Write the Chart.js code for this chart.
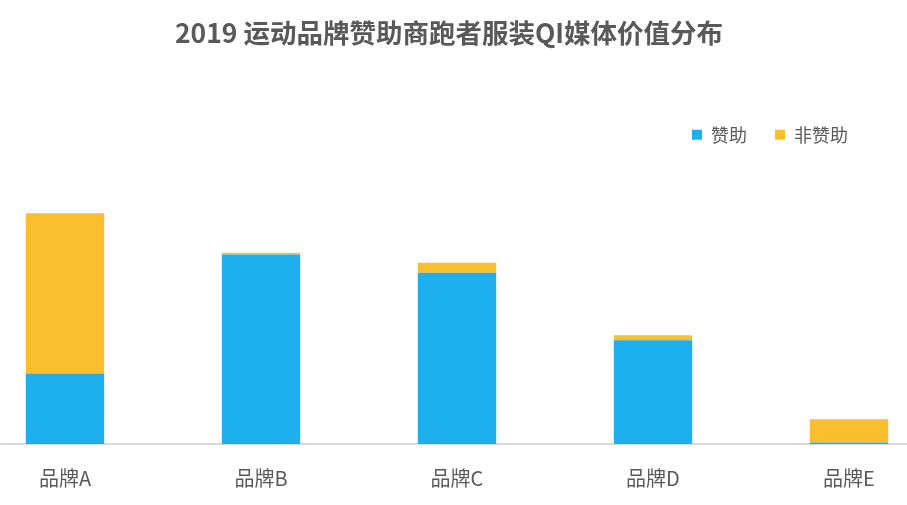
<!DOCTYPE html>
<html>
<head>
<meta charset="utf-8">
<title>2019 运动品牌赞助商跑者服装QI媒体价值分布</title>
<script src="https://cdn.jsdelivr.net/npm/chart.js@4/dist/chart.umd.min.js"></script>
<style>
    html, body { margin: 0; padding: 0; background: #fff; }
    #wrap { width: 907px; height: 505px; }
</style>
</head>
<body>
<div id="wrap"><canvas id="mediaValueChart"></canvas></div>
<script>
// Data (relative media value, no axis shown)
const brands = ['品牌A', '品牌B', '品牌C', '品牌D', '品牌E'];
const sponsored = [70, 188, 170, 103, 1.5];
const nonSponsored = [159, 1.7, 10, 5, 23];
const yMax = 288;

const textColor = '#595959';
const fontFamily = '"Noto Sans CJK SC", "Noto Sans", sans-serif';

// The original plot is a little wider than the canvas: stretch the category axis
const widenX = {
    id: 'widenX',
    afterLayout(chart) {
        const x = chart.scales.x;
        x.left = -33;
        x.right = 947;
        x.width = x.right - x.left;
        x.configure();
    }
};

const mediaValueChart = new Chart(document.getElementById('mediaValueChart'), {
    type: 'bar',
    data: {
        labels: brands,
        datasets: [{
            label: '赞助',
            data: sponsored,
            backgroundColor: '#1EB0EE',
            clip: false
        }, {
            label: '非赞助',
            data: nonSponsored,
            backgroundColor: '#FBBF2D',
            clip: false
        }]
    },
    options: {
        responsive: true,
        maintainAspectRatio: false,
        animation: false,
        layout: {
            padding: { left: 22, right: 31, top: 0, bottom: -7 }
        },
        datasets: {
            bar: {
                categoryPercentage: 1,
                barPercentage: 0.4
            }
        },
        scales: {
            x: {
                stacked: true,
                grid: { display: false, drawTicks: false },
                border: { display: true, color: '#d9d9d9', width: 2 },
                ticks: {
                    color: textColor,
                    padding: 22,
                    font: { family: fontFamily, size: 20 }
                }
            },
            y: {
                stacked: true,
                display: false,
                min: 0,
                max: yMax
            }
        },
        plugins: {
            title: {
                display: true,
                text: '2019 运动品牌赞助商跑者服装QI媒体价值分布',
                color: textColor,
                font: { family: fontFamily, size: 26.5, weight: 'bold' },
                padding: { top: 17, bottom: 49 }
            },
            legend: {
                position: 'top',
                align: 'end',
                labels: {
                    color: textColor,
                    boxWidth: 10,
                    boxHeight: 10,
                    padding: 28,
                    font: { family: fontFamily, size: 18 }
                }
            },
            tooltip: { enabled: false }
        }
    },
    plugins: [widenX]
});
</script>
</body>
</html>
